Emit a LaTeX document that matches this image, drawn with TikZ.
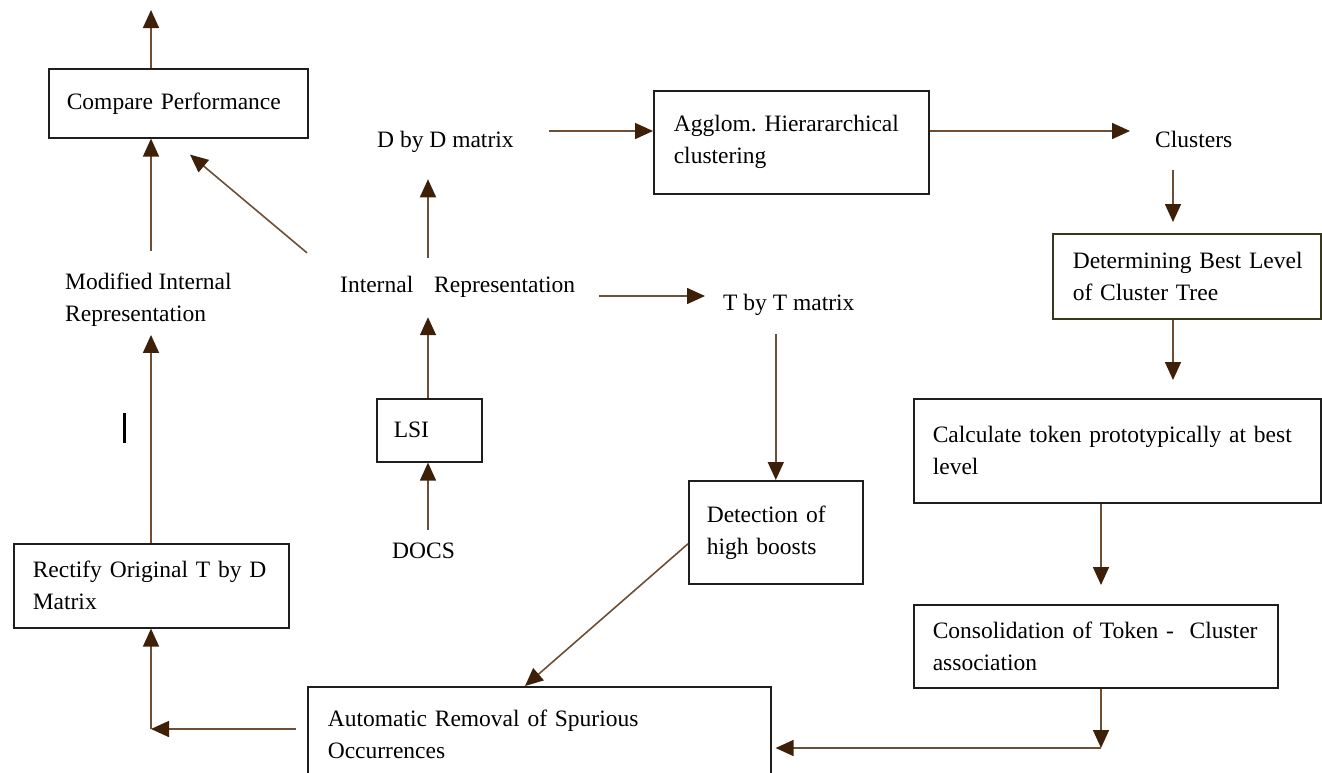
\documentclass[tikz,border=0pt]{standalone}
\usepackage{fontspec}
\setmainfont{Liberation Serif}
\usetikzlibrary{arrows.meta,calc}
\definecolor{linec}{RGB}{112,78,52}
\definecolor{tipc}{RGB}{62,32,8}
\definecolor{boxc}{RGB}{30,30,30}
\definecolor{olivec}{RGB}{55,55,25}
\frenchspacing
\begin{document}
\begin{tikzpicture}[x=1pt,y=-1pt,
  every node/.style={font=\fontsize{23.5}{32}\selectfont},
  box/.style={draw=boxc, line width=1.6pt, rectangle, anchor=north west, align=left, inner ysep=0pt},
  lbl/.style={inner sep=0pt, anchor=base west},
  arr/.style={draw=linec, line width=1.6pt, -{Triangle[length=18pt,width=16pt,color=tipc]}}]
\useasboundingbox (0,0) rectangle (1322,772);

% boxes
\node[box, minimum width=259pt, minimum height=69pt, inner xsep=18pt, text width=223pt] (cp) at (48,68) {\mbox{Compare Performance}};
\node[box, minimum width=275pt, minimum height=103pt, inner xsep=20pt, text width=235pt] (agg) at (653,90) {\mbox{Agglom. Hierararchical}\\clustering};
\node[box, draw=olivec, minimum width=268pt, minimum height=85pt, inner xsep=20pt, text width=228pt] (dbl) at (1052,233) {\mbox{Determining Best Level}\\\mbox{of Cluster Tree}};
\node[box, minimum width=407pt, minimum height=104pt, inner xsep=19pt, text width=369pt] (calc) at (913,398) {\mbox{Calculate token prototypically at best}\\level};
\node[box, minimum width=364pt, minimum height=83pt, inner xsep=19pt, text width=326pt] (cons) at (913,604) {\mbox{Consolidation of Token -~~Cluster}\\association};
\node[box, minimum width=174pt, minimum height=103pt, inner xsep=18pt, text width=138pt] (detect) at (688,480) {\mbox{Detection of}\\\mbox{high boosts}};
\node[box, minimum width=105pt, minimum height=63pt, inner xsep=17pt, text width=71pt] (lsi) at (376,398) {LSI};
\node[box, minimum width=463pt, minimum height=95pt, inner xsep=20pt, text width=423pt] (arm) at (307,686) {\mbox{Automatic Removal of Spurious}\\Occurrences};
\node[box, minimum width=275pt, minimum height=84pt, inner xsep=19pt, text width=237pt] (rect) at (13,543) {\mbox{Rectify Original T by D}\\Matrix};

% plain labels
\node[lbl] (ddm) at (377,147) {D by D matrix};
\node[lbl] (clus) at (1155,147) {Clusters};
\node[lbl] (intrep) at (340,292) {Internal\hspace{15pt} Representation};
\node[lbl] (tbt) at (723,310) {T by T matrix};
\node[inner sep=0pt, anchor=north west, align=left] (mir) at (65,273) {Modified Internal\\Representation};
\node[lbl] (docs) at (392,558) {DOCS};

% helper coordinates
\coordinate (top) at (151,10);
\coordinate (cornerL) at (151,729);
\coordinate (cornerR) at (1101,748);
\coordinate (colR) at (1173,0);
\coordinate (colM) at (428,0);
\coordinate (r1) at (0,131);
\coordinate (r2) at (0,296);

% connectors
\draw[arr] (cp.north -| top) -- (top);
\draw[arr] ($(mir.north -| top)+(0,-22)$) -- (cp.south -| top);
\draw[arr] ($(intrep.west)+(-33,-33.5)$) -- ($(cp.south west)+(142,16)$);
\draw[arr] (rect.north -| top) -- ($(mir.south -| top)+(0,8)$);
\draw[arr] ($(arm.west |- cornerL)+(-11,0)$) -- (cornerL);
\draw[arr] (cornerL) -- (rect.south -| cornerL);
\draw[arr] ($(detect.west)+(0,11.5)$) -- ($(arm.north west)+(218,0)$);
\draw[arr] (cons.south -| cornerR) -- (cornerR);
\draw[arr] (cornerR) -- ($(arm.east |- cornerR)+(4,0)$);
\draw[arr] (calc.south -| cornerR) -- ($(cons.north -| cornerR)+(0,-19)$);
\draw[arr] (dbl.south -| colR) -- ($(calc.north -| colR)+(0,-18)$);
\draw[arr] ($(clus.south -| colR)+(0,23)$) -- ($(dbl.north -| colR)+(0,-11)$);
\draw[arr] (agg.east |- r1) -- ($(clus.west |- r1)+(-25,0)$);
\draw[arr] ($(ddm.east |- r1)+(35,0)$) -- (agg.west |- r1);
\draw[arr] ($(intrep.north -| colM)+(0,-18)$) -- ($(ddm.south -| colM)+(0,27)$);
\draw[arr] (lsi.north -| colM) -- ($(intrep.south -| colM)+(0,20)$);
\draw[arr] ($(docs.north -| colM)+(0,-12)$) -- (lsi.south -| colM);
\draw[arr] ($(intrep.east |- r2)+(24,0)$) -- ($(tbt.west |- r2)+(-18,0)$);
\draw[arr] ($(tbt.south -| detect.north)+(0,19)$) -- (detect.north);

% stray bar mark
\draw[line width=3pt, black] (124,413) -- (124,443);
\end{tikzpicture}
\end{document}
